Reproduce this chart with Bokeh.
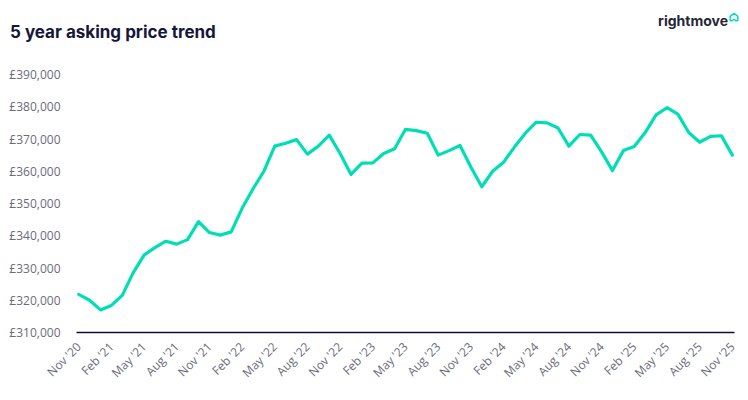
import math
from bokeh.plotting import figure
from bokeh.layouts import column
from bokeh.models import FixedTicker, Range1d, Div
from bokeh.embed import file_html
from bokeh.resources import INLINE

# Monthly average asking price (GBP), Nov 2020 .. Nov 2025
prices = [
    321800, 320000, 317000, 318400, 321500, 328500, 334000, 336300, 338300, 337400,
    338800, 344400, 341000, 340200, 341200, 348500, 354500, 360000, 367800, 368700,
    369800, 365300, 367800, 371200, 365500, 359000, 362500, 362600, 365500, 367000,
    373000, 372600, 371800, 365000, 366400, 368000, 361300, 355200, 360000, 362800,
    367500, 371800, 375200, 375000, 373400, 367800, 371400, 371200, 366000, 360200,
    366400, 367700, 372000, 377500, 379700, 377700, 372000, 369000, 370800, 371000,
    365000,
]
months = list(range(len(prices)))

x_tick_labels = [
    "Nov '20", "Feb '21", "May '21", "Aug '21", "Nov '21", "Feb '22", "May '22",
    "Aug '22", "Nov '22", "Feb '23", "May '23", "Aug '23", "Nov '23", "Feb '24",
    "May '24", "Aug '24", "Nov '24", "Feb '25", "May '25", "Aug '25", "Nov '25",
]
x_tick_positions = list(range(0, 61, 3))

y_ticks = [310000, 320000, 330000, 340000, 350000, 360000, 370000, 380000, 390000]
y_tick_labels = ["£310,000", "£320,000", "£330,000", "£340,000", "£350,000",
                 "£360,000", "£370,000", "£380,000", "£390,000"]

chart_title = "5 year asking price trend"
brand = "rightmove"

W = 740
HEAD_H = 46
CHART_H = 346
TEAL = "#00DEB6"

# ---- header (title + logo) ----
header_html = f"""
<div style="position:relative;width:{W}px;height:{HEAD_H}px;overflow:hidden;">
  <span style="position:absolute;left:10px;top:21px;line-height:22px;
        font-family:Inter,'Open Sans',sans-serif;font-weight:700;font-size:17px;
        color:#16163a;white-space:nowrap;">{chart_title}</span>
  <span style="position:absolute;right:12px;top:12px;line-height:18px;
        font-family:Inter,'Open Sans',sans-serif;font-weight:700;font-size:14px;
        color:#262637;white-space:nowrap;">{brand}</span>
  <svg style="position:absolute;left:729px;top:12px;" width="10" height="10"
       viewBox="0 0 10 10">
    <path d="M1.2 8.8 V4.4 L5 1.2 L8.8 4.4 V8.8 H6.8 Q5 6.2 3.2 8.8 Z"
          fill="none" stroke="{TEAL}" stroke-width="1.5" stroke-linejoin="round"/>
  </svg>
</div>
"""
head = Div(text=header_html, width=W, height=HEAD_H, margin=(0, 0, 0, 0))

# ---- chart ----
p = figure(width=W, height=CHART_H, output_backend="svg", toolbar_location=None,
           x_range=Range1d(-0.2, 60.2), y_range=Range1d(310000, 390000),
           min_border_left=76, min_border_right=6, min_border_top=28,
           min_border_bottom=60, margin=(0, 0, 0, 0))
p.outline_line_color = None
p.xgrid.visible = False
p.ygrid.visible = False

p.line(months, prices, line_color=TEAL, line_width=3.2,
       line_join="round", line_cap="round")

label_color = "#6b6b7b"

p.yaxis.ticker = FixedTicker(ticks=y_ticks)
p.yaxis.major_label_overrides = dict(zip(y_ticks, y_tick_labels))
p.yaxis.axis_line_color = None
p.yaxis.major_tick_line_color = None
p.yaxis.minor_tick_line_color = None
p.yaxis.major_label_standoff = 10
p.yaxis.major_label_text_color = label_color
p.yaxis.major_label_text_font = "Open Sans"
p.yaxis.major_label_text_font_size = "12px"

p.xaxis.ticker = FixedTicker(ticks=x_tick_positions)
p.xaxis.major_label_overrides = dict(zip(x_tick_positions, x_tick_labels))
p.xaxis.axis_line_color = "#0e0e3a"
p.xaxis.axis_line_width = 1.5
p.xaxis.major_tick_line_color = None
p.xaxis.minor_tick_line_color = None
p.xaxis.major_label_orientation = math.pi / 4
p.xaxis.major_label_standoff = 6
p.xaxis.major_label_text_color = label_color
p.xaxis.major_label_text_font = "Open Sans"
p.xaxis.major_label_text_font_size = "12px"

layout = column(head, p, spacing=0)
open("out.html", "w").write(file_html(layout, INLINE))
